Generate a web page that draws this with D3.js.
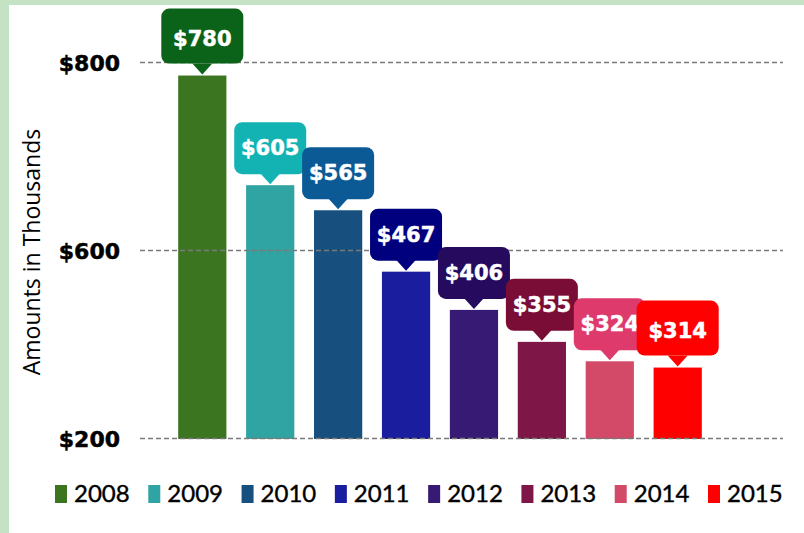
<!DOCTYPE html>
<html lang="en">
<head>
    <meta charset="utf-8">
    <title>Amounts in Thousands</title>
    <script src="https://d3js.org/d3.v7.min.js"></script>
    <style>
        body { margin: 0; background: #c4e3c4; }
        svg { display: block; }
    </style>
</head>
<body>
<svg width="804" height="533"></svg>
<script>
    // data
    var years = ["2008", "2009", "2010", "2011", "2012", "2013", "2014", "2015"];
    var amounts = [780, 605, 565, 467, 406, 355, 324, 314];
    var barColors = ["#3c7520", "#30a3a3", "#17507f", "#1a1d9e", "#361a73", "#7e1748", "#d24a67", "#ff0000"];
    var tipColors = ["#0a6318", "#13b3b3", "#0b5a96", "#00007f", "#250a5e", "#7a0d36", "#df3a6c", "#ff0000"];
    // gridline positions and the labels printed next to them
    var gridValues = [200, 500, 800];
    var gridLabels = ["$200", "$600", "$800"];

    var svg = d3.select("svg");

    // white panel inside the green frame
    svg.append("rect")
        .attr("x", 9).attr("y", 5)
        .attr("width", 795).attr("height", 528)
        .attr("fill", "#fff");

    var x = d3.scaleBand()
        .domain(years)
        .range([168, 712])
        .paddingInner(0.29)
        .paddingOuter(0.15);

    var y = d3.scaleLinear()
        .domain([200, 800])
        .range([439, 63]);

    // bars
    svg.selectAll(".bar")
        .data(amounts)
        .enter()
        .append("rect")
        .attr("class", "bar")
        .attr("x", function(d, i){ return x(years[i]); })
        .attr("y", function(d){ return y(d); })
        .attr("width", x.bandwidth())
        .attr("height", function(d){ return y(200) - y(d); })
        .attr("fill", function(d, i){ return barColors[i]; });

    // dashed gridlines (drawn over the bar bottoms like in the original)
    svg.selectAll(".grid")
        .data(gridValues)
        .enter()
        .append("line")
        .attr("x1", 140).attr("x2", 783)
        .attr("y1", function(d){ return Math.round(y(d)) - 0.5; })
        .attr("y2", function(d){ return Math.round(y(d)) - 0.5; })
        .attr("stroke", "#7a7a7a")
        .attr("stroke-width", 1.6)
        .attr("stroke-dasharray", "5,3");

    svg.selectAll(".tick-label")
        .data(gridValues)
        .enter()
        .append("text")
        .attr("x", 120)
        .attr("y", function(d){ return y(d) + 8; })
        .attr("text-anchor", "end")
        .attr("font-family", "DejaVu Sans")
        .attr("font-weight", "bold")
        .attr("font-size", 22)
        .attr("fill", "#000")
        .attr("stroke", "#000")
        .attr("stroke-width", 0.5)
        .text(function(d, i){ return gridLabels[i]; });

    // axis title
    svg.append("text")
        .attr("transform", "translate(40,252) rotate(-90)")
        .attr("text-anchor", "middle")
        .attr("font-family", "Open Sans")
        .attr("font-size", 23)
        .attr("fill", "#000")
        .text("Amounts in Thousands");

    // value callouts
    var tipW = 72, tipH = 52, gap = 11;
    var tips = svg.selectAll(".tip")
        .data(amounts)
        .enter()
        .append("g")
        .attr("class", "tip")
        .attr("transform", function(d, i){
            var cx = x(years[i]) + x.bandwidth() / 2;
            return "translate(" + cx + "," + (y(d) - gap) + ")";
        });

    tips.append("rect")
        .attr("x", function(d, i){ return (i == 0 || i == 7) ? -41 : -tipW / 2; })
        .attr("y", function(d, i){ return (i == 0 || i == 7) ? -56 : -tipH; })
        .attr("width", function(d, i){ return (i == 0 || i == 7) ? 82 : tipW; })
        .attr("height", function(d, i){ return (i == 0 || i == 7) ? 55 : tipH; })
        .attr("rx", 8)
        .attr("fill", function(d, i){ return tipColors[i]; });

    tips.append("path")
        .attr("d", "M-10,-1 L10,-1 L0,10 Z")
        .attr("fill", function(d, i){ return tipColors[i]; });

    tips.append("text")
        .attr("y", -tipH / 2 + 7)
        .attr("text-anchor", "middle")
        .attr("font-family", "DejaVu Sans")
        .attr("font-weight", "bold")
        .attr("font-size", 21)
        .attr("fill", "#fff")
        .attr("stroke", "#fff")
        .attr("stroke-width", 0.5)
        .text(function(d){ return "$" + d; });

    // legend
    var lx = d3.scalePoint()
        .domain(years)
        .range([55, 708]);

    var legend = svg.selectAll(".legend")
        .data(years)
        .enter()
        .append("g")
        .attr("class", "legend")
        .attr("transform", function(d){ return "translate(" + lx(d) + ",485)"; });

    legend.append("rect")
        .attr("width", 12)
        .attr("height", 18)
        .attr("fill", function(d, i){ return barColors[i]; });

    legend.append("text")
        .attr("x", 19)
        .attr("y", 17)
        .attr("font-family", "Lato")
        .attr("font-size", 24)
        .attr("fill", "#000")
        .attr("stroke", "#000")
        .attr("stroke-width", 0.4)
        .text(function(d){ return d; });
</script>
</body>
</html>
